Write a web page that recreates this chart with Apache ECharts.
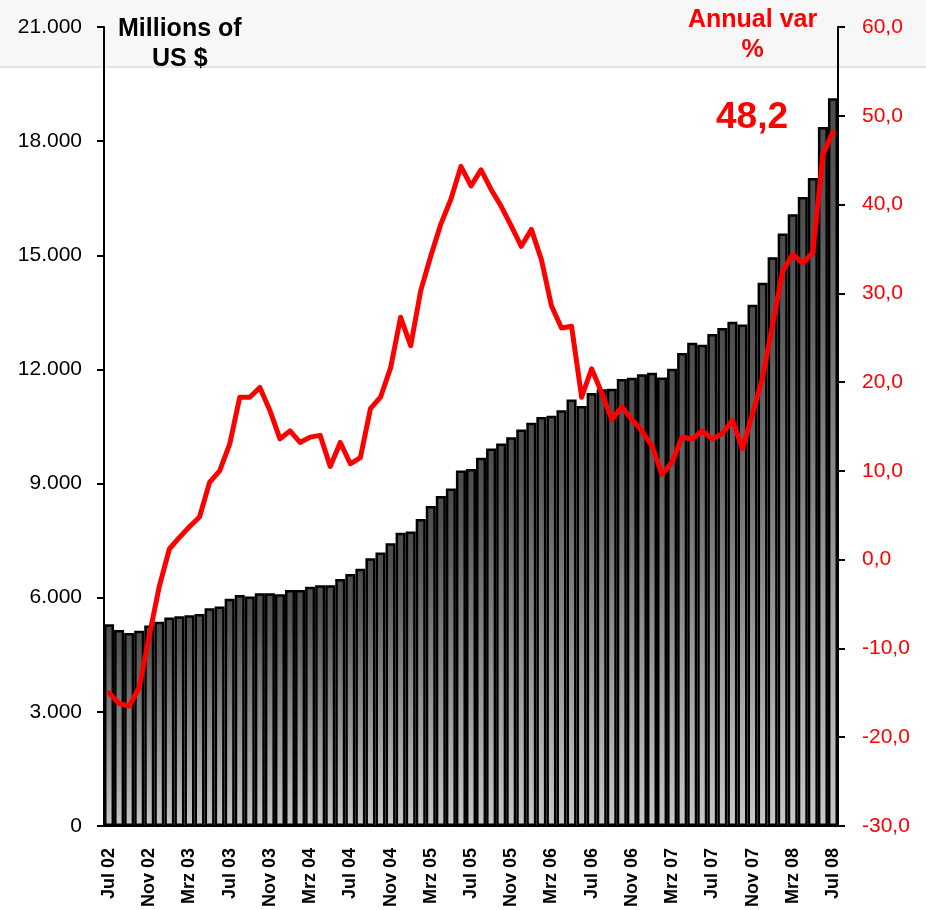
<!DOCTYPE html>
<html>
<head>
<meta charset="utf-8">
<script src="https://cdn.jsdelivr.net/npm/echarts@6/dist/echarts.min.js"></script>
<style>
  html, body { margin: 0; padding: 0; background: #fff; }
  #chart { width: 926px; height: 910px; }
</style>
</head>
<body>
<div id="chart"></div>
<script>
// month names as used on the axis (German abbreviations)
var monthNames = ['Jan', 'Feb', 'Mrz', 'Apr', 'Mai', 'Jun', 'Jul', 'Aug', 'Sep', 'Okt', 'Nov', 'Dez'];
var startYear = 2002, startMonth = 6; // Jul 02
var monthCount = 73;                  // Jul 02 .. Jul 08

// stock, millions of US $
var stockValues = [
    5300, 5150, 5070, 5130, 5270, 5370, 5480, 5510, 5540, 5570,
    5720, 5770, 5970, 6070, 6030, 6120, 6120, 6090, 6200, 6200,
    6290, 6330, 6330, 6490, 6620, 6760, 7040, 7190, 7430, 7710,
    7740, 8070, 8410, 8675, 8870, 9340, 9380, 9680, 9920, 10050,
    10220, 10420, 10600, 10750, 10780, 10930, 11210, 11040, 11380, 11480,
    11490, 11750, 11780, 11870, 11910, 11790, 12020, 12430, 12700, 12650,
    12930, 13090, 13255, 13180, 13700, 14280, 14945, 15570, 16080, 16530,
    17030, 18370, 19130
];

// annual variation, %
var annualVar = [
    -15.0, -16.2, -16.5, -14.4, -8.6, -3.0, 1.2, 2.5, 3.7, 4.8,
    8.7, 10.0, 13.0, 18.3, 18.3, 19.4, 16.8, 13.6, 14.5, 13.2,
    13.8, 14.0, 10.5, 13.2, 10.8, 11.5, 17.0, 18.3, 21.6, 27.3,
    24.1, 30.3, 34.2, 37.8, 40.6, 44.3, 42.1, 43.9, 41.7, 39.8,
    37.6, 35.3, 37.2, 33.8, 28.6, 26.1, 26.3, 18.3, 21.5, 18.8,
    15.8, 17.2, 15.8, 14.5, 12.8, 9.6, 11.0, 13.8, 13.6, 14.5,
    13.6, 14.2, 15.7, 12.5, 16.4, 20.5, 26.5, 32.5, 34.4, 33.4,
    34.6, 45.6, 48.2
];

var lastValueLabel = '48,2';

var categories = [];
for (var i = 0; i < monthCount; i++) {
    var m = (startMonth + i) % 12;
    var y = startYear + Math.floor((startMonth + i) / 12);
    categories.push(monthNames[m] + ' ' + String(y).slice(2));
}

var chart = echarts.init(document.getElementById('chart'));

var font = '"Liberation Sans", Arial, sans-serif';

option = {
    backgroundColor: '#ffffff',
    animation: false,
    graphic: [
        { type: 'rect', z: -10, shape: { x: 0, y: 0, width: 926, height: 66 }, style: { fill: '#f7f7f7' } },
        { type: 'line', z: -10, shape: { x1: 0, y1: 67, x2: 926, y2: 67 }, style: { stroke: '#e4e4e4', lineWidth: 2 } },
        {
            type: 'text', left: 118, top: 14,
            style: { text: 'Millions of\nUS $', fill: '#000', font: 'bold 25px ' + font, textAlign: 'center', lineHeight: 30 }
        },
        {
            type: 'text', left: 688, top: 5,
            style: { text: 'Annual var\n%', fill: '#ff0000', font: 'bold 25px ' + font, textAlign: 'center', lineHeight: 30 }
        },
        {
            type: 'text', left: 716, top: 99,
            style: { text: lastValueLabel, fill: '#ff0000', font: 'bold 37px ' + font }
        }
    ],
    grid: {
        left: 104,
        right: 88,
        top: 27,
        bottom: 82
    },
    xAxis: {
        type: 'category',
        data: categories,
        boundaryGap: true,
        axisLine: { lineStyle: { color: '#000', width: 2 } },
        axisTick: { interval: 3, length: 8, lineStyle: { color: '#000', width: 2 } },
        axisLabel: {
            interval: 3,
            rotate: 90,
            margin: 22,
            color: '#000',
            fontFamily: font,
            fontWeight: 'bold',
            fontSize: 18
        },
        splitLine: { show: false }
    },
    yAxis: [{
        type: 'value',
        min: 0,
        max: 21000,
        interval: 3000,
        axisLine: { show: true, lineStyle: { color: '#000', width: 2 } },
        axisTick: { show: true, length: 7, lineStyle: { color: '#000', width: 2 } },
        axisLabel: {
            margin: 22,
            color: '#000',
            fontFamily: font,
            fontSize: 21,
            formatter: function (v) { return v === 0 ? '0' : (v / 1000) + '.000'; }
        },
        splitLine: { show: false }
    }, {
        type: 'value',
        min: -30,
        max: 60,
        interval: 10,
        position: 'right',
        axisLine: { show: true, lineStyle: { color: '#000', width: 2 } },
        axisTick: { show: true, length: 7, lineStyle: { color: '#000', width: 2 } },
        axisLabel: {
            margin: 24,
            color: '#ff0000',
            fontFamily: font,
            fontSize: 21,
            formatter: function (v) { return v.toFixed(1).replace('.', ','); }
        },
        splitLine: { show: false }
    }],
    series: [{
        name: 'Millions of US $',
        type: 'bar',
        data: stockValues,
        barCategoryGap: '0%',
        itemStyle: {
            borderColor: '#000',
            borderWidth: 2.5,
            color: new echarts.graphic.LinearGradient(0, 0, 0, 1, [
                { offset: 0, color: '#4c4c4c' },
                { offset: 0.15, color: '#5a5a5a' },
                { offset: 1, color: '#c8c8c8' }
            ])
        }
    }, {
        name: 'Annual var %',
        type: 'line',
        yAxisIndex: 1,
        data: annualVar,
        showSymbol: false,
        lineStyle: { color: '#ff0000', width: 5, join: 'round', cap: 'round' },
        z: 5
    }]
};

chart.setOption(option);
</script>
</body>
</html>
